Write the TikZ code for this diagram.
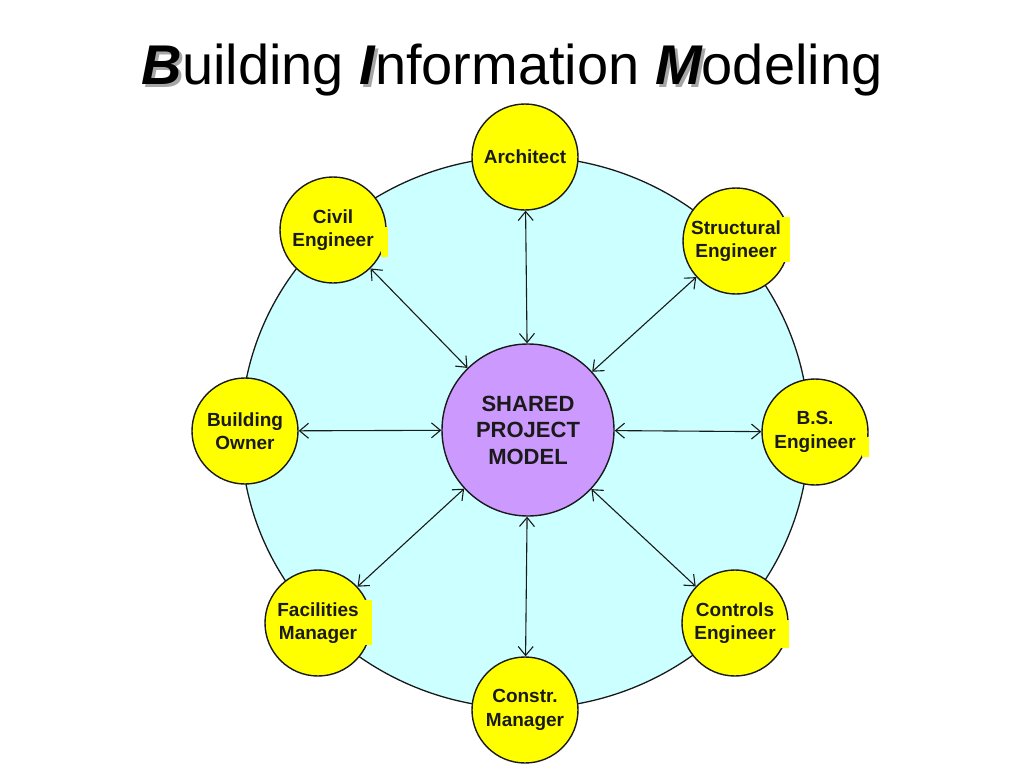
\documentclass[tikz,border=0pt]{standalone}
\usepackage{fontspec}
\setmainfont{Liberation Sans}
\usetikzlibrary{arrows.meta,shapes.geometric}
\definecolor{cyanbg}{HTML}{CCFFFF}
\definecolor{ylw}{HTML}{FFFF00}
\definecolor{purp}{HTML}{CC99FF}
\definecolor{ink}{HTML}{1A1A1A}
\newcommand{\shcap}[1]{\makebox[0pt][l]{\hspace{3pt}\raisebox{-3pt}{\textcolor{black!35}{\bfseries\itshape #1}}}{\bfseries\itshape #1}}
\tikzset{
  party/.style={circle, draw=ink, line width=1.4pt, fill=ylw, minimum size=106pt,
    inner sep=0pt, align=center, text=ink, font=\bfseries\fontsize{19}{23.5}\selectfont},
  hub/.style={circle, draw=ink, line width=1.4pt, fill=purp, minimum size=172pt,
    inner sep=0pt, align=center, text=ink, font=\bfseries\fontsize{22}{26.5}\selectfont},
  conn/.style={{Straight Barb[length=9pt,width=15pt]}-{Straight Barb[length=9pt,width=15pt]},
    line width=1.1pt, draw=ink},
  patch/.style={fill=ylw}
}
\begin{document}
\begin{tikzpicture}[x=1pt,y=-1pt]
\useasboundingbox[fill=white] (0,0) rectangle (1024,768);
% title
\node[anchor=base, inner sep=0pt, font=\fontsize{56}{60}\selectfont] (title) at (512,84)
  {\shcap{B}uilding \shcap{I}nformation \shcap{M}odeling};
% background ring
\node[ellipse, draw=ink, line width=1.3pt, fill=cyanbg, minimum width=568pt,
  minimum height=552pt, inner sep=0pt] (ring) at (525,432.5) {};
% hub
\node[hub] (hub) at (528,430) {SHARED\\PROJECT\\MODEL};
% parties
\node[party] (arch)  at (525,157) {Architect};
\node[party] (struc) at (736,241) {Structural\\Engineer};
\node[party] (bs)    at (815,432) {B.S.\\Engineer};
\node[party] (ctrl)  at (735,623) {Controls\\Engineer};
\node[party] (cons)  at (525,710) {Constr.\\Manager};
\node[party] (fac)   at (318,623) {Facilities\\Manager};
\node[party] (own)   at (245,431) {Building\\Owner};
\node[party] (civil) at (333,230) {Civil\\Engineer};
% yellow text-box patches overlapping outlines
\fill[patch] (780,217) rectangle (790,262);
\fill[patch] (862,437) rectangle (869,457);
\fill[patch] (780,620) rectangle (789,648);
\fill[patch] (381,227) rectangle (388,257);
\fill[patch] (365,600) rectangle (372,645);
% connectors
\draw[conn] (hub) -- (arch);
\draw[conn] (hub) -- (struc);
\draw[conn] (hub) -- (bs);
\draw[conn] (hub) -- (ctrl);
\draw[conn] (hub) -- (cons);
\draw[conn] (hub) -- (fac);
\draw[conn] (hub) -- (own);
\draw[conn] (hub) -- (civil);
\end{tikzpicture}
\end{document}
